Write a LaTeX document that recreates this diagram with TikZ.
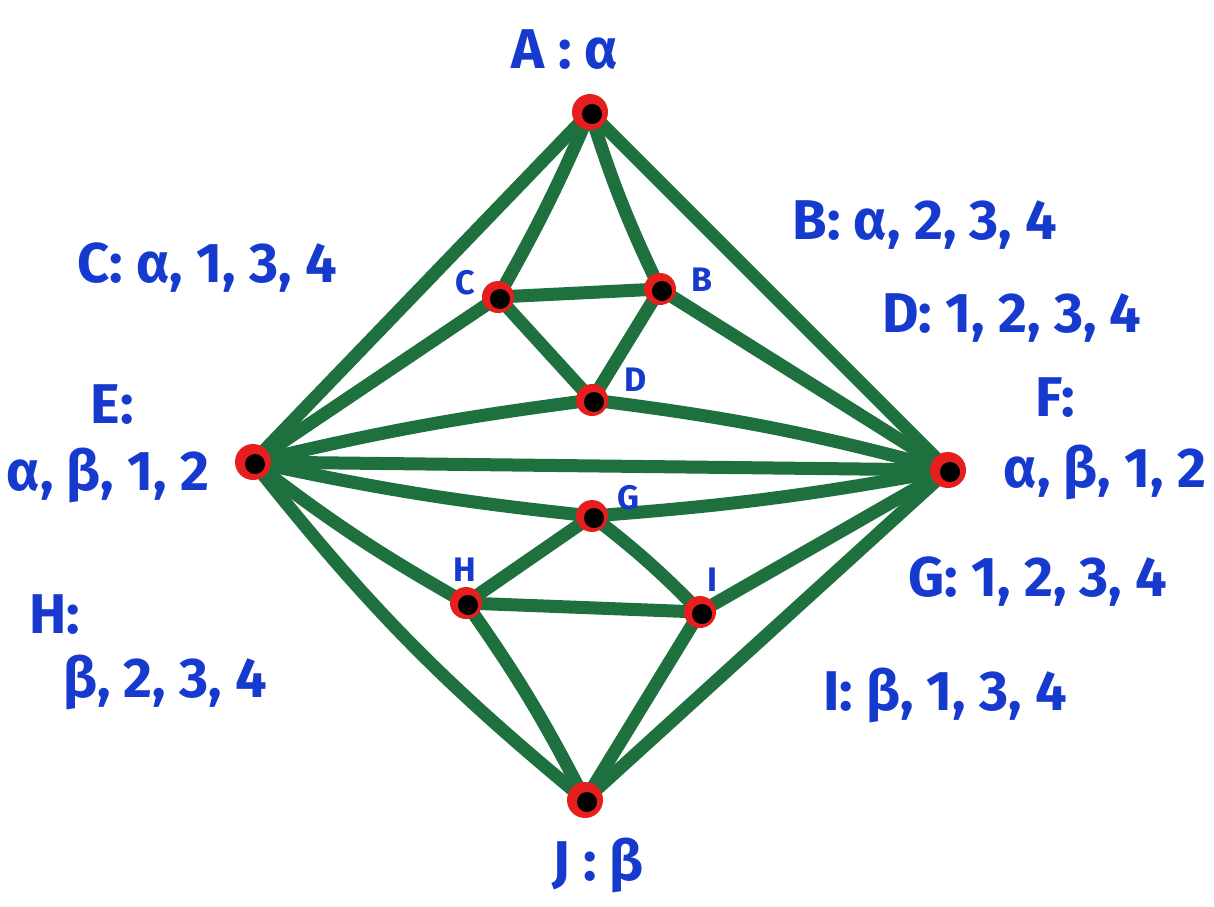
\documentclass[tikz,border=0pt]{standalone}
\usepackage{fontspec}
\setmainfont{Fira Sans}
\usetikzlibrary{backgrounds}
\definecolor{edgegreen}{RGB}{30,112,62}
\definecolor{inkblue}{RGB}{22,58,205}
\definecolor{dotred}{RGB}{230,30,30}
\tikzset{
  vtx/.style={circle, fill=dotred, inner sep=0pt, minimum size=36pt,
    path picture={\fill[black] ([xshift=2pt,yshift=-2pt]path picture bounding box.center) circle (10pt);}},
  small vtx/.style={vtx, minimum size=32pt},
  edge/.style={draw=edgegreen, line width=13pt, line cap=round},
  biglabel/.style={text=inkblue, font=\fontsize{56}{64}\selectfont\bfseries, inner sep=0pt},
  smalllabel/.style={text=inkblue, font=\fontsize{34}{38}\selectfont\bfseries, inner sep=0pt}
}
\begin{document}
\begin{tikzpicture}[x=1pt,y=-1pt]
\useasboundingbox (0,0) rectangle (1214,906);
% vertices
\node[vtx] (A) at (590,112) {};
\node[small vtx] (B) at (660,289) {};
\node[small vtx] (C) at (498,297) {};
\node[small vtx] (D) at (592,400) {};
\node[vtx] (E) at (253,462) {};
\node[vtx] (F) at (948,470) {};
\node[small vtx] (G) at (592,516) {};
\node[small vtx] (H) at (466,603) {};
\node[small vtx] (I) at (700,612) {};
\node[vtx] (J) at (585,800) {};
\begin{scope}[on background layer]
\fill[white] (0,0) rectangle (1214,906);
\draw[edge] (A.center) -- (E.center);
\draw[edge] (A.center) to[bend left=3] (C.center);
\draw[edge] (A.center) to[bend right=4] (B.center);
\draw[edge] (A.center) -- (F.center);
\draw[edge] (C.center) -- (B.center);
\draw[edge] (C.center) -- (D.center);
\draw[edge] (B.center) -- (D.center);
\draw[edge] (C.center) -- (E.center);
\draw[edge] (B.center) -- (F.center);
\draw[edge] (E.center) to[bend left=3] (D.center);
\draw[edge] (D.center) to[bend left=4] (F.center);
\draw[edge] (E.center) -- (F.center);
\draw[edge] (E.center) to[bend right=3] (G.center);
\draw[edge] (G.center) to[bend right=3] (F.center);
\draw[edge] (E.center) to[bend right=4] (H.center);
\draw[edge] (G.center) -- (H.center);
\draw[edge] (G.center) to[bend left=4] (I.center);
\draw[edge] (H.center) -- (I.center);
\draw[edge] (I.center) -- (F.center);
\draw[edge] (H.center) to[bend left=4] (J.center);
\draw[edge] (I.center) -- (J.center);
\draw[edge] (E.center) to[bend right=6] (J.center);
\draw[edge] (F.center) -- (J.center);
\end{scope}
% small vertex labels
\node[smalllabel] (lC) at (465,283) {C};
\node[smalllabel] (lB) at (702,280) {B};
\node[smalllabel] (lD) at (636,380) {D};
\node[smalllabel] (lG) at (628,498) {G};
\node[smalllabel] (lH) at (465,570) {H};
\node[smalllabel] (lI) at (712,580) {I};
% big labels
\node[biglabel] (tA) at (565,50) {A : α};
\node[biglabel] (tB) at (925,225) {B: α, 2, 3, 4};
\node[biglabel] (tC) at (207,268) {C: α, 1, 3, 4};
\node[biglabel] (tD) at (1012,318) {D: 1, 2, 3, 4};
\node[biglabel] (tE1) at (112,405) {E:};
\node[biglabel] (tE2) at (108,475) {α, β, 1, 2};
\node[biglabel] (tF1) at (1055,398) {F:};
\node[biglabel] (tF2) at (1105,472) {α, β, 1, 2};
\node[biglabel] (tG) at (1038,582) {G: 1, 2, 3, 4};
\node[biglabel] (tH1) at (55,615) {H:};
\node[biglabel] (tH2) at (165,682) {β, 2, 3, 4};
\node[biglabel] (tI) at (945,695) {I: β, 1, 3, 4};
\node[biglabel] (tJ) at (598,865) {J : β};
\end{tikzpicture}
\end{document}
